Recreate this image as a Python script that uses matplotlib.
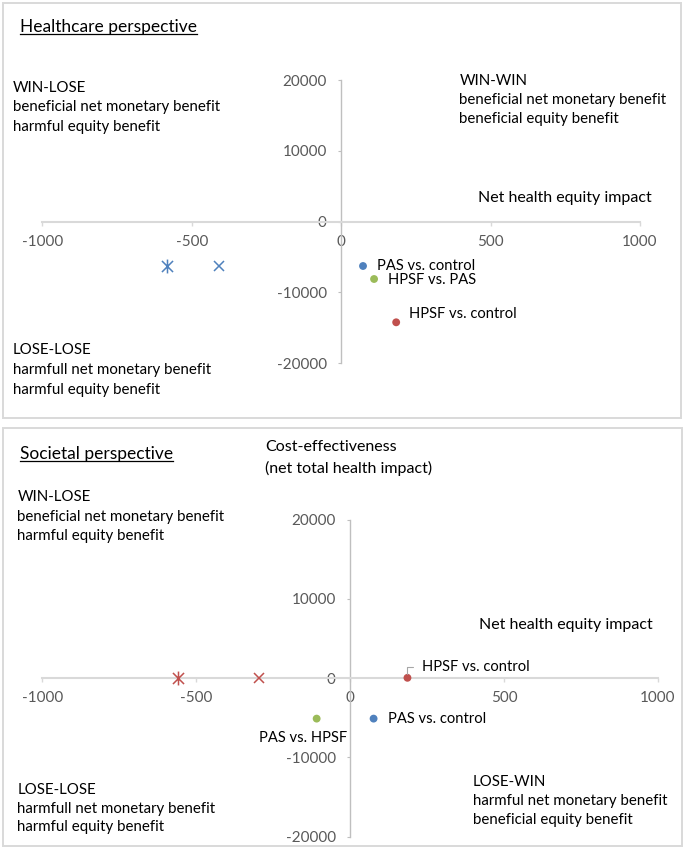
import matplotlib
matplotlib.use("Agg")
import matplotlib.pyplot as plt
from matplotlib.patches import Rectangle
from matplotlib.lines import Line2D
from matplotlib.path import Path

plt.rcParams['font.family'] = ['Lato', 'DejaVu Sans']

# ---------------- data ----------------
x_ticks = [-1000, -500, 0, 500, 1000]
y_ticks = [-20000, -10000, 0, 10000, 20000]

# Healthcare perspective
hc_labels = ["PAS vs. control", "HPSF vs. PAS", "HPSF vs. control"]
hc_x = [73, 110, 184]
hc_y = [-6266, -8105, -14229]
hc_star = ([-584], [-6266])
hc_cross = ([-408], [-6266])

# Societal perspective
so_labels = ["HPSF vs. control", "PAS vs. control", "PAS vs. HPSF"]
so_x = [186, 76, -109]
so_y = [50, -5100, -5100]
so_star = ([-561], [0])
so_cross = ([-297], [0])

BLUE = "#4F81BD"
RED = "#C0504D"
GREEN = "#9BBB59"
hc_colors = [BLUE, GREEN, RED]
so_colors = [RED, BLUE, GREEN]

W, H = 685, 848
fig = plt.figure(figsize=(W / 100, H / 100), dpi=100)


def fx(x):
    return x / W


def fy(y):
    return 1 - y / H


# panel boxes
for (x0, y0, x1, y1) in [(2.7, 2.7, 681, 418), (2.7, 427.5, 682, 846)]:
    fig.add_artist(Rectangle((fx(x0), fy(y1)), fx(x1) - fx(x0), fy(y0) - fy(y1),
                             transform=fig.transFigure, fill=False,
                             edgecolor="#D9D9D9", linewidth=1.4))

star_path = Path([(0, -1), (0, 1), (-0.8, -0.8), (0.8, 0.8), (-0.8, 0.8), (0.8, -0.8)],
                 [Path.MOVETO, Path.LINETO, Path.MOVETO, Path.LINETO, Path.MOVETO, Path.LINETO])


def setup_axes(rect):
    ax = fig.add_axes(rect)
    ax.set_xlim(-1000, 1000)
    ax.set_ylim(-20000, 20000)
    ax.patch.set_alpha(0)
    for s in ["top", "right"]:
        ax.spines[s].set_visible(False)
    ax.spines["left"].set_position(("data", 0))
    ax.spines["bottom"].set_position(("data", 0))
    ax.spines["bottom"].set_color("#D9D9D9")
    ax.spines["bottom"].set_linewidth(1.5)
    ax.spines["left"].set_color("#BFBFBF")
    ax.spines["left"].set_linewidth(1.0)
    ax.set_xticks(x_ticks)
    ax.set_yticks(y_ticks)
    ax.set_xticklabels([str(v) for v in x_ticks])
    ax.set_yticklabels([str(v) for v in y_ticks])
    ax.tick_params(axis="x", direction="out", length=3, width=1.0, color="#D9D9D9",
                   labelsize=11, labelcolor="#595959", pad=6.5)
    ax.tick_params(axis="y", direction="out", length=2.4, width=0.8, color="#BFBFBF",
                   labelsize=11, labelcolor="#595959", pad=8)
    return ax


# ---------- top panel ----------
ax1 = setup_axes([fx(42.4), fy(363.1), fx(640) - fx(42.4), fy(80.3) - fy(363.1)])
ax1.scatter(hc_x, hc_y, c=hc_colors, s=32, zorder=3, linewidths=0)
ax1.plot(hc_star[0], hc_star[1], linestyle="none", marker=star_path, markersize=10,
         markeredgecolor=BLUE, markeredgewidth=1.1, zorder=3)
ax1.plot(hc_cross[0], hc_cross[1], linestyle="none", marker="x", markersize=7.5,
         markeredgecolor=BLUE, markeredgewidth=1.1, zorder=3)
hc_offsets = [(14, 0), (13.5, -1), (12.5, 8.5)]
for lab, x, y, off in zip(hc_labels, hc_x, hc_y, hc_offsets):
    ax1.annotate(lab, (x, y), xytext=off, textcoords="offset pixels",
                 ha="left", va="center", fontsize=10.6)

# ---------- bottom panel ----------
ax2 = setup_axes([fx(42.4), fy(836.7), fx(658) - fx(42.4), fy(519.7) - fy(836.7)])
ax2.scatter(so_x, so_y, c=so_colors, s=32, zorder=3, linewidths=0)
ax2.plot(so_star[0], so_star[1], linestyle="none", marker=star_path, markersize=10,
         markeredgecolor=RED, markeredgewidth=1.1, zorder=3)
ax2.plot(so_cross[0], so_cross[1], linestyle="none", marker="x", markersize=7.5,
         markeredgecolor=RED, markeredgewidth=1.1, zorder=3)
ax2.annotate(so_labels[0], (so_x[0], so_y[0]), xytext=(14.5, 10.6), textcoords="offset pixels",
             ha="left", va="center", fontsize=10.6,
             arrowprops=dict(arrowstyle="-", color="#A6A6A6", lw=0.8, relpos=(0, 0.5),
                             connectionstyle="angle,angleA=180,angleB=90,rad=0",
                             shrinkA=4.5, shrinkB=2.5))
ax2.annotate(so_labels[1], (so_x[1], so_y[1]), xytext=(14.7, 0), textcoords="offset pixels",
             ha="left", va="center", fontsize=10.6)
ax2.annotate(so_labels[2], (so_x[2], so_y[2]), xytext=(-13.4, -19), textcoords="offset pixels",
             ha="center", va="center", fontsize=10.6)

# ---------- free texts ----------
FS = 10.8


def lines(x, ys, texts, ha="left"):
    for y, t in zip(ys, texts):
        fig.text(fx(x), fy(y), t, ha=ha, va="center", fontsize=FS)


t1 = fig.text(fx(20), fy(27), "Healthcare perspective", ha="left", va="center", fontsize=12.5)
t2 = fig.text(fx(20), fy(454), "Societal perspective", ha="left", va="center", fontsize=12.5)

lines(13, [88, 107.5, 127], ["WIN-LOSE", "beneficial net monetary benefit", "harmful equity benefit"])
lines(459.3, [80.7, 100.3, 119.5], ["WIN-WIN", "beneficial net monetary benefit", "beneficial equity benefit"])
lines(13, [350, 370, 390], ["LOSE-LOSE", "harmfull net monetary benefit", "harmful equity benefit"])
fig.text(fx(652), fy(198.3), "Net health equity impact", ha="right", va="center", fontsize=11.5)

fig.text(fx(265), fy(447.3), "Cost-effectiveness", ha="left", va="center", fontsize=11.5)
fig.text(fx(265), fy(468.3), "(net total health impact)", ha="left", va="center", fontsize=11.5)
lines(17.3, [497.3, 516.5, 536], ["WIN-LOSE", "beneficial net monetary benefit", "harmful equity benefit"])
fig.text(fx(653), fy(625), "Net health equity impact", ha="right", va="center", fontsize=11.5)
lines(472.7, [781.7, 800.7, 820], ["LOSE-WIN", "harmful net monetary benefit", "beneficial equity benefit"])
lines(17.3, [790, 809, 827.3], ["LOSE-LOSE", "harmfull net monetary benefit", "harmful equity benefit"])

# underline titles
fig.canvas.draw()
r = fig.canvas.get_renderer()
for t, yc in [(t1, 27), (t2, 454)]:
    bb = t.get_window_extent(r)
    yline = fy(yc + 7.2)
    fig.add_artist(Line2D([bb.x0 / W, bb.x1 / W], [yline, yline], transform=fig.transFigure,
                          color="black", linewidth=0.9))

fig.savefig("out.png", dpi=100)
